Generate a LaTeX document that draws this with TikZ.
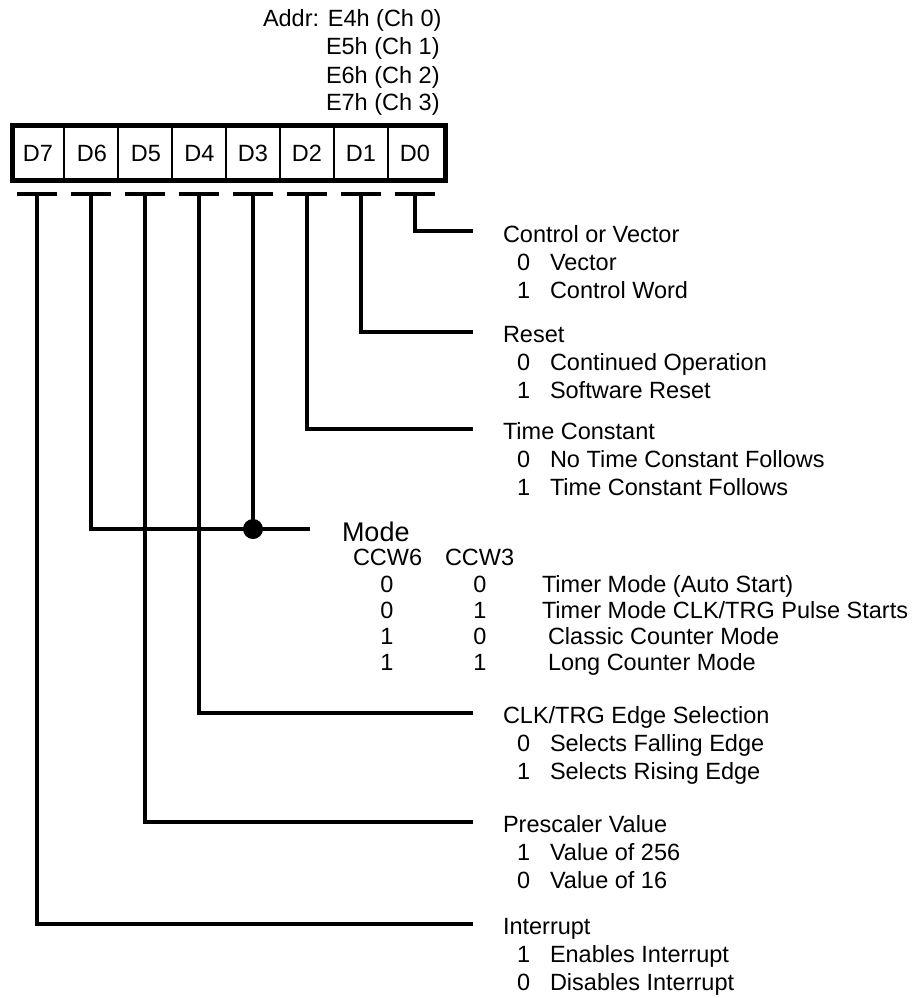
\documentclass[tikz,border=0pt]{standalone}
\usepackage{fontspec}
\setmainfont{Liberation Sans}
\begin{document}
\begin{tikzpicture}[x=1pt,y=-1pt,
  txt/.style={font=\fontsize{23.5}{28}\selectfont, inner sep=0pt, outer sep=0pt, anchor=base west},
  ctxt/.style={font=\fontsize{23.5}{28}\selectfont, inner sep=0pt, outer sep=0pt, anchor=base},
  bigtxt/.style={font=\fontsize{27}{32}\selectfont, inner sep=0pt, outer sep=0pt, anchor=base west},
  ln/.style={line width=3.4pt},
  tbar/.style={line width=3.8pt},
  divider/.style={line width=2.5pt},
  regbox/.style={draw, line width=5pt, inner sep=0pt, outer sep=0pt, minimum width=433pt, minimum height=55pt, anchor=north west},
  junction/.style={circle, fill=black, inner sep=0pt, minimum size=20pt}
]
\useasboundingbox (0,0) rectangle (919,998);

% address text
\node[txt] (addr) at (263,27) {Addr: E4h (Ch 0)};
\node[txt] (a5) at (326,55) {E5h (Ch 1)};
\node[txt] (a6) at (326,83) {E6h (Ch 2)};
\node[txt] (a7) at (326,110) {E7h (Ch 3)};

% register
\node[regbox] (reg) at (12.5,125.5) {};
\foreach \x in {64,118,172,226,280,334,388} {
  \draw[divider] (\x,125.5) -- (\x,180.5);
}
\node[ctxt] (d7) at (38,161.5) {D7};
\node[ctxt] (d6) at (92,161.5) {D6};
\node[ctxt] (d5) at (146,161.5) {D5};
\node[ctxt] (d4) at (199.5,161.5) {D4};
\node[ctxt] (d3) at (253,161.5) {D3};
\node[ctxt] (d2) at (307,161.5) {D2};
\node[ctxt] (d1) at (361,161.5) {D1};
\node[ctxt] (d0) at (415,161.5) {D0};

% T tops of bit lines
\coordinate (t7) at (37,194);
\coordinate (t6) at (91,194);
\coordinate (t5) at (145,194);
\coordinate (t4) at (199,194);
\coordinate (t3) at (253,194);
\coordinate (t2) at (307,194);
\coordinate (t1) at (361,194);
\coordinate (t0) at (415,194);
\foreach \i in {0,...,7} {
  \draw[tbar] ([xshift=-20pt]t\i) -- ([xshift=20pt]t\i);
}

% line ends
\coordinate (e0) at (473,231);
\coordinate (e1) at (473,332);
\coordinate (e2) at (473,429);
\coordinate (em) at (310,529);
\coordinate (j3) at (253,529);
\coordinate (e4) at (473,713);
\coordinate (e5) at (473,822);
\coordinate (e7) at (473,924);

\draw[ln] (t0) |- (e0);
\draw[ln] (t1) |- (e1);
\draw[ln] (t2) |- (e2);
\draw[ln] (t6) |- (em);
\draw[ln] (t3) -- (j3);
\draw[ln] (t4) |- (e4);
\draw[ln] (t5) |- (e5);
\draw[ln] (t7) |- (e7);
\node[junction] (dot) at (j3) {};

% D0 group
\node[txt] (h0) at (503,242) {Control or Vector};
\node[txt] (h0a) at (517,270) {0};
\node[txt] (h0b) at (550,270) {Vector};
\node[txt] (h0c) at (517,298) {1};
\node[txt] (h0d) at (550,298) {Control Word};

% D1 group
\node[txt] (h1) at (503,342) {Reset};
\node[txt] (h1a) at (517,370) {0};
\node[txt] (h1b) at (550,370) {Continued Operation};
\node[txt] (h1c) at (517,398) {1};
\node[txt] (h1d) at (550,398) {Software Reset};

% D2 group
\node[txt] (h2) at (503,439) {Time Constant};
\node[txt] (h2a) at (517,467) {0};
\node[txt] (h2b) at (550,467) {No Time Constant Follows};
\node[txt] (h2c) at (517,495) {1};
\node[txt] (h2d) at (550,495) {Time Constant Follows};

% Mode group
\node[bigtxt] (hm) at (342,541) {Mode};
\node[txt] (ccw6) at (353,565) {CCW6};
\node[txt] (ccw3) at (445,565) {CCW3};
\node[ctxt] (m1a) at (387,592) {0};
\node[ctxt] (m1b) at (480,592) {0};
\node[txt]  (m1c) at (542,592) {Timer Mode (Auto Start)};
\node[ctxt] (m2a) at (387,618) {0};
\node[ctxt] (m2b) at (480,618) {1};
\node[txt]  (m2c) at (542,618) {Timer Mode CLK/TRG Pulse Starts};
\node[ctxt] (m3a) at (387,644) {1};
\node[ctxt] (m3b) at (480,644) {0};
\node[txt]  (m3c) at (548,644) {Classic Counter Mode};
\node[ctxt] (m4a) at (387,670) {1};
\node[ctxt] (m4b) at (480,670) {1};
\node[txt]  (m4c) at (548,670) {Long Counter Mode};

% D4 group
\node[txt] (h4) at (503,723) {CLK/TRG Edge Selection};
\node[txt] (h4a) at (517,751) {0};
\node[txt] (h4b) at (550,751) {Selects Falling Edge};
\node[txt] (h4c) at (517,779) {1};
\node[txt] (h4d) at (550,779) {Selects Rising Edge};

% D5 group
\node[txt] (h5) at (503,832) {Prescaler Value};
\node[txt] (h5a) at (517,860) {1};
\node[txt] (h5b) at (550,860) {Value of 256};
\node[txt] (h5c) at (517,888) {0};
\node[txt] (h5d) at (550,888) {Value of 16};

% D7 group
\node[txt] (h7) at (503,934) {Interrupt};
\node[txt] (h7a) at (517,962) {1};
\node[txt] (h7b) at (550,962) {Enables Interrupt};
\node[txt] (h7c) at (517,990) {0};
\node[txt] (h7d) at (550,990) {Disables Interrupt};
\end{tikzpicture}
\end{document}
